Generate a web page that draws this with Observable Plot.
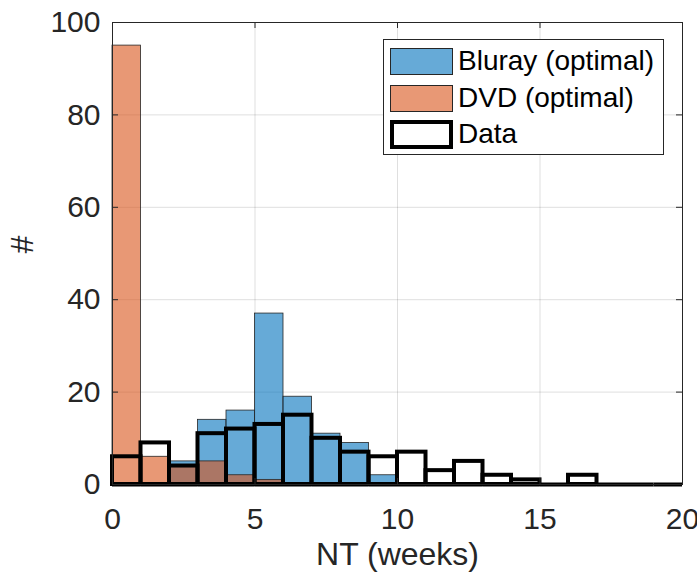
<!DOCTYPE html>
<html>
<head>
<meta charset="utf-8">
<script src="https://cdn.jsdelivr.net/npm/d3@7"></script>
<script src="https://cdn.jsdelivr.net/npm/@observablehq/plot@0.6"></script>
<style>
  html, body { margin: 0; padding: 0; background: #fff; }
  #wrap { position: relative; width: 697px; height: 577px; font-family: "Liberation Sans", Arial, sans-serif; }
  #legend { position: absolute; left: 383px; top: 39px; width: 279px; height: 114px; background: #fff; border: 1px solid #262626; }
  .entry { position: absolute; left: 6px; height: 28px; display: flex; align-items: center; }
  .sw { box-sizing: border-box; width: 63px; height: 27px; margin-right: 5px; }
  .lab { font-size: 28px; color: #000; white-space: nowrap; line-height: 28px; }
</style>
</head>
<body>
<div id="wrap"></div>
<script>
// Bin edges (weeks)
const binEdges = [0,1,2,3,4,5,6,7,8,9,10,11,12,13,14,15,16,17,18,19,20];
// Counts per bin
const bluray = [0,0,5,14,16,37,19,11,9,2,0,0,0,0,0,0,0,0,0,0];
const dvd    = [95,6,4,5,2,1,0,0,0,0,0,0,0,0,0,0,0,0,0,0];
const dataCounts = [6,9,4,11,12,13,15,10,7,6,7,3,5,2,1,0,2,0,0,0];
const xTicks = [0,5,10,15,20];
const yTicks = [0,20,40,60,80,100];
const seriesNames = ["Bluray (optimal)", "DVD (optimal)", "Data"];
const xLabel = "NT (weeks)";
const yLabel = "#";

const rows = bluray.map((b, i) => ({x1: binEdges[i], x2: binEdges[i+1], bluray: b, dvd: dvd[i], data: dataCounts[i]}));

const W = 697, H = 577, mL = 112, mR = 15, mT = 22, mB = 93;
const plotW = W - mL - mR, plotH = H - mT - mB;
const tickLen = 6;
const axisColor = "#262626";

const chart = Plot.plot({
  width: W, height: H,
  marginLeft: mL, marginRight: mR, marginTop: mT, marginBottom: mB,
  style: {fontFamily: "Liberation Sans, Arial, sans-serif", color: axisColor, background: "#fff"},
  x: {domain: [0, 20], label: null},
  y: {domain: [0, 100], label: null},
  marks: [
    Plot.gridX(xTicks, {stroke: axisColor, strokeOpacity: 0.15}),
    Plot.gridY(yTicks, {stroke: axisColor, strokeOpacity: 0.15}),
    Plot.rectY(rows.filter(d => d.bluray > 0), {x1: "x1", x2: "x2", y1: 0, y2: "bluray", fill: "#0072BD", fillOpacity: 0.6, stroke: axisColor, strokeWidth: 0.8}),
    Plot.rectY(rows.filter(d => d.dvd > 0), {x1: "x1", x2: "x2", y1: 0, y2: "dvd", fill: "#D95319", fillOpacity: 0.6, stroke: axisColor, strokeWidth: 0.8}),
    Plot.rectY(rows.filter(d => d.data > 0), {x1: "x1", x2: "x2", y1: 0, y2: "data", fill: "none", stroke: "#000", strokeWidth: 4}),
    Plot.ruleY(rows, {x1: "x1", x2: "x2", y: 0, stroke: "#000", strokeWidth: 4}),
    Plot.frame({stroke: axisColor, strokeWidth: 1}),
    Plot.tickY(yTicks, {y: d => d, insetRight: plotW - tickLen, stroke: axisColor}),
    Plot.tickY(yTicks, {y: d => d, insetLeft: plotW - tickLen, stroke: axisColor}),
    Plot.tickX(xTicks, {x: d => d, insetTop: plotH - tickLen, stroke: axisColor}),
    Plot.tickX(xTicks, {x: d => d, insetBottom: plotH - tickLen, stroke: axisColor}),
    Plot.axisX(xTicks, {tickSize: 0, tickPadding: 23, fontSize: 30, fill: axisColor}),
    Plot.axisY(yTicks, {tickSize: 0, tickPadding: 12, fontSize: 30, fill: axisColor}),
    Plot.text([xLabel], {frameAnchor: "bottom", dy: 80, fontSize: 32, fill: axisColor, text: d => d}),
    Plot.text([yLabel], {frameAnchor: "left", dx: -90, rotate: -90, fontSize: 32, fill: axisColor, text: d => d})
  ]
});

const wrap = document.getElementById("wrap");
wrap.appendChild(chart);

const legend = document.createElement("div");
legend.id = "legend";
const swStyles = [
  "background: rgba(0,114,189,0.6); border: 1px solid #262626;",
  "background: rgba(217,83,25,0.6); border: 1px solid #262626;",
  "background: #fff; border: 4px solid #000; height: 29px;"
];
const tops = [7, 44, 80];
seriesNames.forEach((name, i) => {
  const e = document.createElement("div");
  e.className = "entry";
  e.style.top = tops[i] + "px";
  const sw = document.createElement("div");
  sw.className = "sw";
  sw.setAttribute("style", swStyles[i]);
  const lab = document.createElement("span");
  lab.className = "lab";
  lab.textContent = name;
  e.appendChild(sw); e.appendChild(lab);
  legend.appendChild(e);
});
wrap.appendChild(legend);
</script>
</body>
</html>
